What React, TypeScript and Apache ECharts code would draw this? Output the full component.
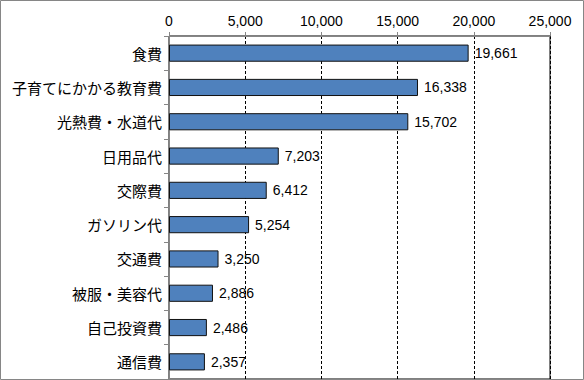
import React, { useEffect, useRef } from "react";
import * as echarts from "echarts";

const categories = [
  "食費",
  "子育てにかかる教育費",
  "光熱費・水道代",
  "日用品代",
  "交際費",
  "ガソリン代",
  "交通費",
  "被服・美容代",
  "自己投資費",
  "通信費",
];
const values = [19661, 16338, 15702, 7203, 6412, 5254, 3250, 2886, 2486, 2357];
const axisMin = 0;
const axisMax = 25000;
const axisStep = 5000;

const fmt = (v: number) => v.toLocaleString("en-US");

export default function App() {
  const ref = useRef<HTMLDivElement>(null);
  useEffect(() => {
    if (!ref.current) return;
    const chart = echarts.init(ref.current, null, { renderer: "svg" });
    chart.setOption({
      animation: false,
      backgroundColor: "#ffffff",
      grid: {
        left: 169,
        top: 36,
        right: 34,
        bottom: 1,
        show: true,
        borderColor: "#000000",
        borderWidth: 1,
        backgroundColor: "transparent",
      },
      xAxis: {
        type: "value",
        position: "top",
        min: axisMin,
        max: axisMax,
        interval: axisStep,
        axisLine: { show: true, lineStyle: { color: "#868686", width: 1 } },
        axisTick: { show: true, length: 4, lineStyle: { color: "#868686" } },
        axisLabel: {
          color: "#000",
          fontSize: 14,
          fontFamily: "Liberation Sans",
          margin: 8,
          formatter: (v: number) => fmt(v),
        },
        splitLine: {
          show: true,
          lineStyle: { color: "#000", type: [3, 2], width: 1 },
        },
      },
      yAxis: {
        type: "category",
        inverse: true,
        data: categories,
        axisLine: { show: true, lineStyle: { color: "#868686", width: 1 } },
        axisTick: { show: true, length: 5, lineStyle: { color: "#868686" } },
        axisLabel: {
          color: "#000",
          fontSize: 15,
          fontFamily: "Noto Sans CJK JP",
          margin: 7,
        },
        splitLine: { show: false },
      },
      series: [
        {
          type: "bar",
          data: values,
          barWidth: "50%",
          itemStyle: {
            color: "#4F81BD",
            borderColor: "#111111",
            borderWidth: 1,
          },
          label: {
            show: true,
            position: "right",
            distance: 6,
            color: "#000",
            fontSize: 14,
            fontFamily: "Liberation Sans",
            formatter: (p: any) => fmt(p.value),
          },
        },
      ],
      graphic: [
        {
          type: "rect",
          shape: { x: 0.5, y: 0.5, width: 583, height: 379 },
          style: { fill: "none", stroke: "#868686", lineWidth: 1 },
          silent: true,
          z: 100,
        },
      ],
    });
    return () => chart.dispose();
  }, []);
  return (
    <div
      ref={ref}
      style={{ position: "fixed", left: 0, top: 0, width: 584, height: 380 }}
    />
  );
}
